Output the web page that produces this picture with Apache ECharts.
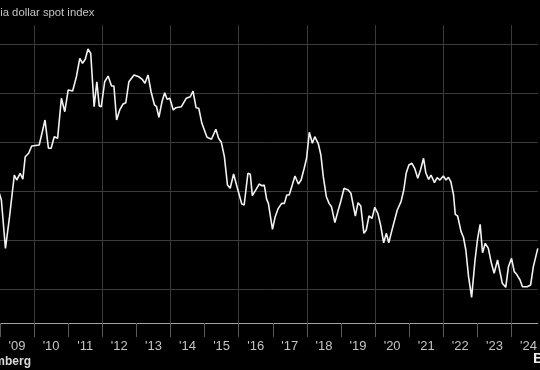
<!DOCTYPE html>
<html><head><meta charset="utf-8">
<script src="https://cdn.jsdelivr.net/npm/echarts@6/dist/echarts.min.js"></script>
<style>html,body{margin:0;padding:0;background:#000;}#c{width:540px;height:370px;}</style>
</head><body><div id="c"></div>
<script>
// Dates as decimal years, values of the index
const dates = [2008.98,2009.04,2009.16,2009.28,2009.42,2009.49,2009.59,2009.67,2009.74,2009.84,2009.93,
2010.15,2010.32,2010.42,2010.50,2010.59,2010.69,2010.80,2010.90,
2011.00,2011.13,2011.24,2011.34,2011.42,2011.50,2011.58,2011.66,2011.76,2011.84,2011.91,2011.97,
2012.07,2012.17,2012.27,2012.34,2012.42,2012.51,2012.61,2012.69,2012.78,2012.93,
2013.07,2013.17,2013.25,2013.34,2013.43,2013.53,2013.59,2013.66,2013.75,2013.83,2013.90,2013.98,
2014.08,2014.16,2014.32,2014.46,2014.58,2014.66,2014.75,2014.83,2014.92,
2015.07,2015.20,2015.24,2015.33,2015.41,2015.49,2015.58,2015.67,2015.75,2015.85,2015.97,
2016.09,2016.16,2016.27,2016.34,2016.40,2016.51,2016.60,2016.68,2016.75,2016.82,2016.87,2016.99,
2017.07,2017.16,2017.26,2017.34,2017.41,2017.48,2017.57,2017.65,2017.75,2017.83,2017.92,2017.99,
2018.07,2018.16,2018.23,2018.33,2018.41,2018.48,2018.57,2018.65,2018.72,2018.82,2018.92,2018.99,
2019.09,2019.21,2019.29,2019.42,2019.50,2019.58,2019.67,2019.74,2019.82,2019.91,2019.99,
2020.08,2020.16,2020.25,2020.33,2020.40,2020.52,2020.65,2020.76,2020.84,2020.91,2020.99,
2021.08,2021.16,2021.25,2021.33,2021.42,2021.49,2021.57,2021.64,2021.74,2021.82,2021.90,
2022.00,2022.08,2022.15,2022.22,2022.30,2022.35,2022.42,2022.52,2022.59,2022.66,2022.74,2022.83,2022.93,
2023.00,2023.08,2023.15,2023.23,2023.32,2023.41,2023.49,2023.59,2023.67,2023.73,2023.83,2023.91,
2024.00,2024.08,2024.15,2024.25,2024.32,2024.46,2024.56,2024.64,2024.77];
const values = [104.77,104.08,99.15,102.38,106.63,106.12,106.81,106.22,108.50,108.85,109.59,
109.69,112.24,109.36,109.36,110.54,110.38,114.46,113.09,
115.31,115.20,116.66,118.54,118.03,118.44,119.49,119.05,113.60,116.15,113.67,113.60,
116.15,116.73,115.71,115.71,112.24,113.27,113.88,114.01,116.15,116.84,
116.66,116.40,115.99,116.84,115.13,113.78,113.60,112.52,114.11,115.03,114.36,114.46,
113.27,113.50,113.60,114.46,114.62,115.20,113.50,113.44,111.91,
110.48,110.28,110.28,111.30,110.38,109.97,108.50,105.61,105.28,106.73,105.17,
103.67,103.57,106.81,106.70,104.52,105.17,105.71,105.54,105.61,104.15,103.74,101.09,
102.38,103.23,103.74,103.74,104.59,104.59,105.61,106.53,105.71,106.12,107.32,108.34,
110.99,109.87,110.54,109.87,108.67,106.46,104.42,103.74,103.40,101.77,103.06,103.91,
105.28,105.10,104.77,102.45,103.81,103.47,100.68,101.02,102.45,102.21,103.34,
102.72,101.53,99.72,100.68,99.72,101.36,103.06,103.91,105.10,106.81,107.65,
107.83,107.32,106.30,107.14,108.34,106.81,106.19,106.63,105.85,106.36,106.12,
106.53,106.12,106.40,105.95,104.59,102.62,102.45,100.85,100.28,98.98,96.26,94.15,97.96,
100.00,101.60,98.70,99.66,99.15,97.62,96.60,97.96,96.60,95.58,95.17,97.28,
98.13,96.77,96.50,95.92,95.23,95.23,95.41,97.28,99.15];
const yGridValues = [95, 100, 105, 110, 115, 120];
const xGridYears = [2010, 2012, 2014, 2016, 2018, 2020, 2022, 2024];
const titleText = 'Asia dollar spot index';
const sourceText = 'Bloomberg';
const logoText = 'Bloomberg';

const lineData = dates.map((d, i) => [d, values[i]]);
const gridMarks = yGridValues.map(v => ({ yAxis: v })).concat(xGridYears.map(v => ({ xAxis: v })));

const chart = echarts.init(document.getElementById('c'), null, { renderer: 'canvas' });
chart.setOption({
  backgroundColor: '#000',
  animation: false,
  grid: { left: 0, right: 0, top: 25, bottom: 47, containLabel: false },
  xAxis: {
    type: 'value', min: 2009, max: 2024.771, interval: 1,
    axisLine: { show: true, lineStyle: { color: '#a0a0a0', width: 1 } },
    axisTick: { show: true, length: 14, lineStyle: { color: '#5a5a5a', width: 1 } },
    splitLine: { show: false },
    axisLabel: {
      showMinLabel: true, showMaxLabel: false,
      color: '#c4c4c4', fontSize: 13, fontFamily: 'Liberation Sans',
      margin: 17, padding: [0, 0, 0, 34],
      formatter: v => Number.isInteger(v) ? "'" + String(v).slice(2) : ''
    }
  },
  yAxis: {
    type: 'value', min: 91.53, max: 121.94, show: false,
    splitLine: { show: false }
  },
  series: [
    {
      type: 'line', data: lineData, z: 1, silent: true,
      showSymbol: false, lineStyle: { opacity: 0 },
      markLine: {
        silent: true, symbol: 'none', animation: false,
        label: { show: false },
        lineStyle: { color: '#3a3a3a', type: 'solid', width: 1 },
        data: gridMarks
      }
    },
    {
      type: 'line', data: lineData, z: 5,
      showSymbol: false, smooth: false,
      lineStyle: { color: '#f2f2f2', width: 1.6 }
    }
  ],
  graphic: [
    { type: 'text', x: -13, y: 13, style: { text: titleText, fill: '#c4c4c4', font: '11.3px "Liberation Sans"', verticalAlign: 'middle', align: 'left' } },
    { type: 'text', x: 31, y: 362, style: { text: sourceText, fill: '#d8d8d8', font: 'bold 12px "Liberation Sans"', verticalAlign: 'middle', align: 'right' } },
    { type: 'text', x: 533, y: 359, style: { text: logoText, fill: '#ececec', font: 'bold 15px "Liberation Sans"', verticalAlign: 'middle', align: 'left' } }
  ]
});
</script></body></html>
